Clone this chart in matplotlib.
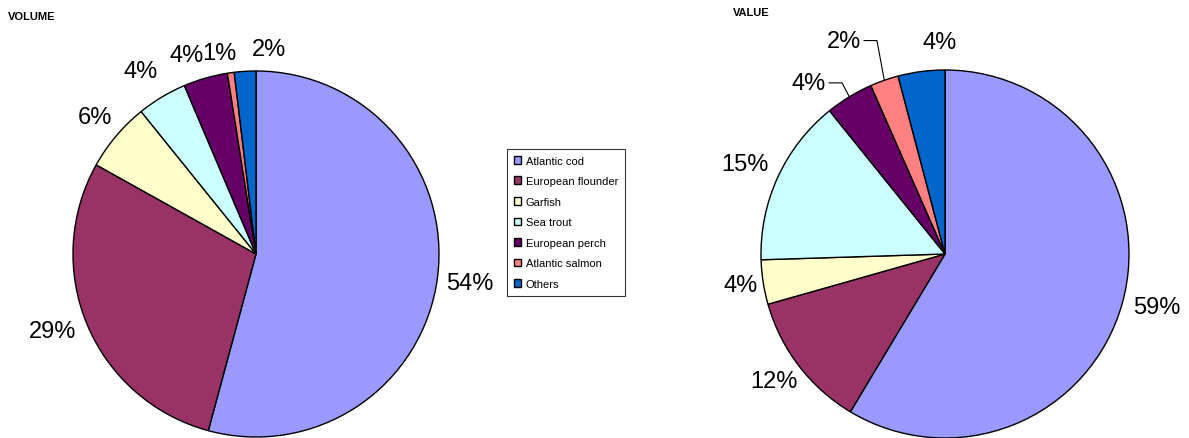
import numpy as np
import matplotlib.pyplot as plt

plt.rcParams['font.family'] = ['Liberation Sans', 'DejaVu Sans']

# data
species = ['Atlantic cod', 'European flounder', 'Garfish', 'Sea trout',
           'European perch', 'Atlantic salmon', 'Others']
volume = [54.2, 28.9, 6.1, 4.4, 3.9, 0.6, 1.9]
value = [58.6, 12.0, 3.9, 14.7, 4.2, 2.5, 4.1]
colors = ['#9999FF', '#993366', '#FFFFCC', '#CCFFFF', '#660066', '#FF8080', '#0066CC']

# label placement (radius 1 units)
vol_label_pos = [(1.17, -0.16), (-1.11, -0.42), (-0.88, 0.75), (-0.63, 1.00),
                 (-0.38, 1.09), (-0.20, 1.10), (0.07, 1.12)]
val_label_pos = [(1.15, -0.29), (-0.93, -0.69), (-1.11, -0.17), (-1.09, 0.49),
                 (-0.74, 0.93), (-0.55, 1.16), (-0.03, 1.15)]
leader = [4, 5]  # slices on the value pie with leader lines

W, H = 1189, 439
fig = plt.figure(figsize=(W / 100, H / 100), dpi=100)


def make_ax(x0, x1):
    ax = fig.add_axes([x0 / W, 0, (x1 - x0) / W, 1])
    ax.set_axis_off()
    return ax


def draw_pie(ax, vals, label_pos, leaders=()):
    wedges, _ = ax.pie(vals, colors=colors, startangle=90, counterclock=False,
                       wedgeprops=dict(edgecolor='black', linewidth=1.0))
    total = sum(vals)
    for i, (w, v) in enumerate(zip(wedges, vals)):
        txt = '%d%%' % round(v / total * 100)
        lx, ly = label_pos[i]
        ax.text(lx, ly, txt, fontsize=17, ha='center', va='center')
        if i in leaders:
            mid = np.deg2rad((w.theta1 + w.theta2) / 2)
            ex, ey = np.cos(mid), np.sin(mid)
            x_start = lx + 0.11
            ax.plot([x_start, ex - 0.04, ex], [ly, ly, ey], color='black', lw=0.8)
    return wedges


ax1 = make_ax(0, 512)
wedges = draw_pie(ax1, volume, vol_label_pos)
ax1.set_xlim(-256 / 183, 256 / 183)
ax1.set_ylim(-(H - 255) / 183, 255 / 183)
ax1.set_aspect('auto')

ax2 = make_ax(700, 1189)
draw_pie(ax2, value, val_label_pos, leader)
ax2.set_xlim(-245 / 184, 244 / 184)
ax2.set_ylim(-(H - 255) / 184, 255 / 184)
ax2.set_aspect('auto')

fig.text(8 / W, 1 - 17 / H, 'VOLUME', fontsize=8, fontweight='bold', va='center')
fig.text(733 / W, 1 - 13 / H, 'VALUE', fontsize=8, fontweight='bold', va='center')

leg = fig.legend(wedges, species, loc='upper left', bbox_to_anchor=(507 / W, 1 - 150 / H),
                 fontsize=8, frameon=True, fancybox=False, edgecolor='black',
                 handlelength=0.7, handleheight=0.7, handletextpad=0.4,
                 labelspacing=0.95, borderpad=0.6, borderaxespad=0)
leg.get_frame().set_linewidth(0.8)

fig.savefig('out.png', dpi=100)
